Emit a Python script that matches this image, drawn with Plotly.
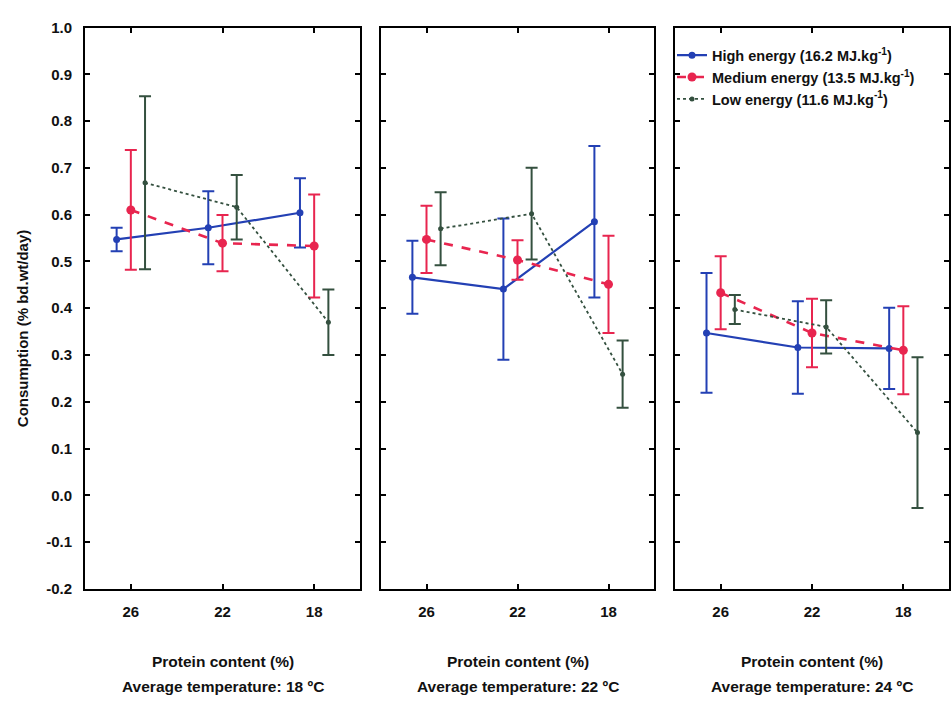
import plotly.graph_objects as go

# ---- data ----
categories = ["26", "22", "18"]
temperatures = ["18", "22", "24"]
y_tickvals = [-0.2, -0.1, 0.0, 0.1, 0.2, 0.3, 0.4, 0.5, 0.6, 0.7, 0.8, 0.9, 1.0]
y_ticktext = ["-0.2", "-0.1", "0.0", "0.1", "0.2", "0.3", "0.4", "0.5", "0.6", "0.7", "0.8", "0.9", "1.0"]

high_mean = [[0.547, 0.572, 0.604], [0.466, 0.441, 0.585], [0.347, 0.316, 0.314]]
high_err = [[0.025, 0.078, 0.074], [0.078, 0.151, 0.162], [0.128, 0.099, 0.087]]

medium_mean = [[0.610, 0.539, 0.533], [0.547, 0.503, 0.451], [0.433, 0.347, 0.310]]
medium_err = [[0.128, 0.060, 0.110], [0.072, 0.042, 0.104], [0.078, 0.073, 0.094]]

low_mean = [[0.668, 0.616, 0.370], [0.570, 0.602, 0.259], [0.397, 0.360, 0.134]]
low_err = [[0.185, 0.069, 0.070], [0.078, 0.098, 0.072], [0.031, 0.057, 0.161]]

series_names = [
    "High energy (16.2 MJ.kg<sup>-1</sup>)",
    "Medium energy (13.5 MJ.kg<sup>-1</sup>)",
    "Low energy (11.6 MJ.kg<sup>-1</sup>)",
]

# ---- styles ----
BLUE = "#2340b4"
RED = "#e8254f"
GREEN = "#34503f"
styles = [
    dict(color=BLUE, dash="solid", width=2.2, msize=7, offset=-0.155),
    dict(color=RED, dash="dash", width=2.6, msize=9, offset=0.0),
    dict(color=GREEN, dash="dot", width=1.8, msize=5, offset=0.155),
]
means = [high_mean, medium_mean, low_mean]
errs = [high_err, medium_err, low_err]

W, H = 952, 713
x_pix = [(85, 360), (381, 654), (675, 949)]
y_top, y_bot = 19, 594

fig = go.Figure()
for p in range(3):
    for s in range(3):
        st = styles[s]
        xs = [i + st["offset"] for i in range(len(categories))]
        fig.add_trace(go.Scatter(
            x=xs, y=means[s][p],
            mode="lines+markers",
            name=series_names[s],
            legendgroup=str(s),
            showlegend=(p == 0),
            line=dict(color=st["color"], dash=st["dash"], width=st["width"]),
            marker=dict(color=st["color"], size=st["msize"], symbol="circle"),
            error_y=dict(type="data", array=errs[s][p], visible=True,
                         color=st["color"], thickness=2, width=6),
            xaxis="x" if p == 0 else f"x{p+1}",
            yaxis="y" if p == 0 else f"y{p+1}",
        ))

font_family = "Liberation Sans, Arial, sans-serif"
tickfont = dict(family=font_family, size=15, color="#111111", weight="bold")

layout = dict(
    width=W, height=H,
    margin=dict(l=0, r=0, t=0, b=0),
    paper_bgcolor="white", plot_bgcolor="white",
    showlegend=True,
    legend=dict(x=672 / W, y=1 - 31 / H, xanchor="left", yanchor="top",
                bgcolor="rgba(0,0,0,0)", tracegroupgap=0,
                font=dict(family=font_family, size=14.5, color="#111111", weight="bold"),
                itemwidth=30),
    font=dict(family=font_family),
)

for p in range(3):
    xk = "xaxis" if p == 0 else f"xaxis{p+1}"
    yk = "yaxis" if p == 0 else f"yaxis{p+1}"
    xa = "x" if p == 0 else f"x{p+1}"
    ya = "y" if p == 0 else f"y{p+1}"
    x0, x1 = x_pix[p]
    layout[xk] = dict(
        domain=[x0 / W, x1 / W], anchor=ya, range=[-0.5, 2.5],
        tickvals=[0, 1, 2], ticktext=categories, showgrid=False, zeroline=False,
        showline=True, linecolor="black", linewidth=2, mirror="ticks",
        ticks="inside", ticklen=5, tickwidth=1.5, tickcolor="black",
        tickfont=tickfont, ticklabelstandoff=8,
    )
    layout[yk] = dict(
        domain=[1 - y_bot / H, 1 - y_top / H], anchor=xa, range=[-0.2, 1.0],
        tickvals=y_tickvals, ticktext=y_ticktext, showgrid=False, zeroline=False,
        showline=True, linecolor="black", linewidth=2, mirror="ticks",
        ticks="inside", ticklen=5, tickwidth=1.5, tickcolor="black",
        tickfont=tickfont, showticklabels=(p == 0), ticklabelstandoff=8,
    )

fig.update_layout(**layout)

for p in range(3):
    x0, x1 = x_pix[p]
    cx = (x0 + x1) / 2 / W
    fig.add_annotation(
        x=cx, y=1 - 668 / H, xref="paper", yref="paper",
        text="<b>Protein content (%)</b>",
        showarrow=False, xanchor="center", yanchor="middle",
        font=dict(family=font_family, size=15.5, color="#111111"),
    )
    fig.add_annotation(
        x=cx, y=1 - 694 / H, xref="paper", yref="paper",
        text=f"<b>Average temperature: {temperatures[p]} ºC</b>",
        showarrow=False, xanchor="center", yanchor="middle",
        font=dict(family=font_family, size=15.5, color="#111111"),
    )

fig.add_annotation(
    x=22 / W, y=1 - 328 / H, xref="paper", yref="paper",
    text="<b>Consumption (% bd.wt/day)</b>", textangle=-90, showarrow=False,
    xanchor="center", yanchor="middle",
    font=dict(family=font_family, size=15, color="#111111"),
)

fig.write_html("out.html")
